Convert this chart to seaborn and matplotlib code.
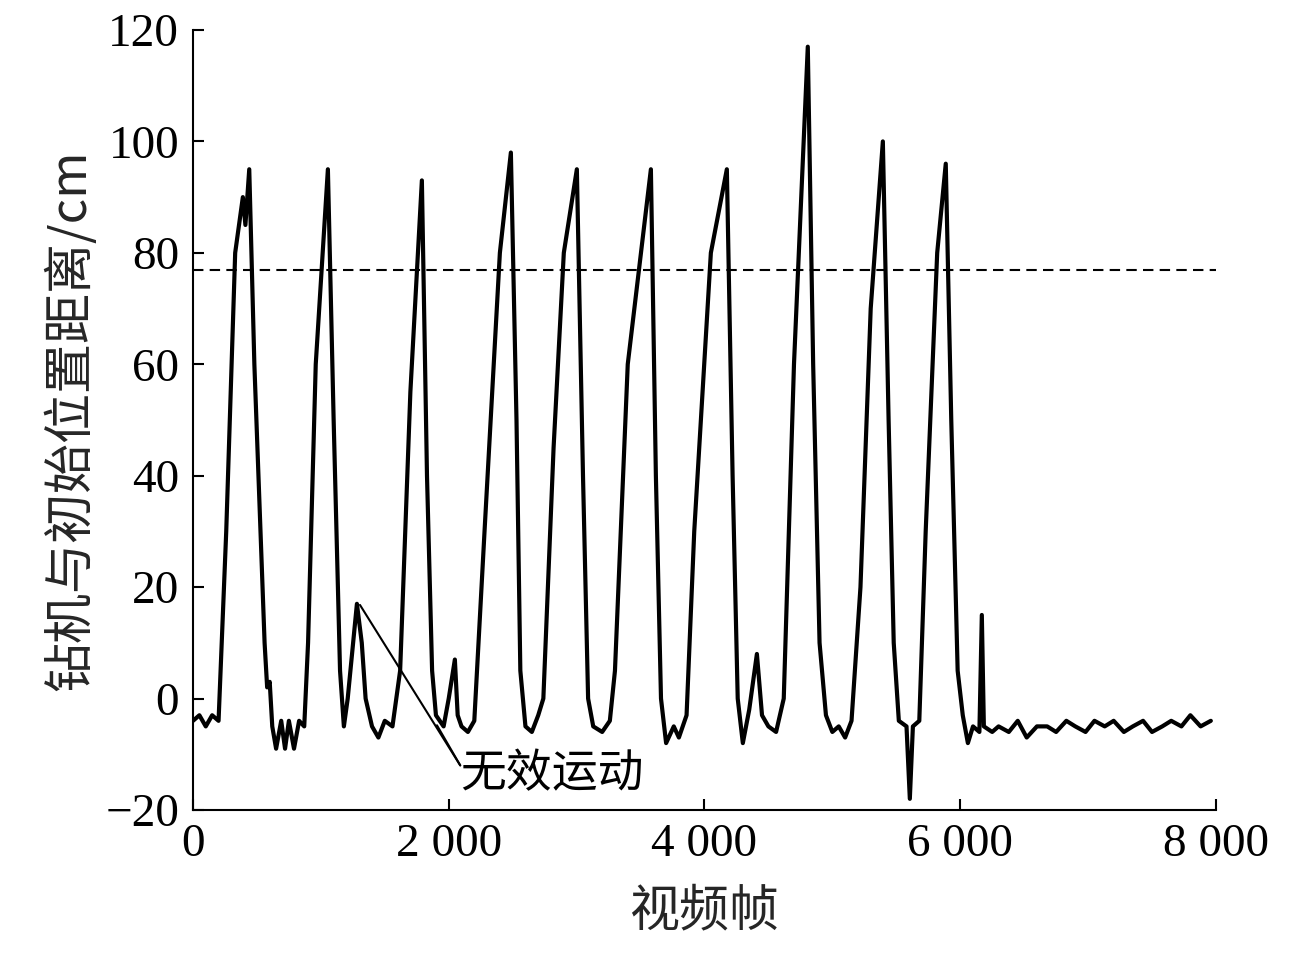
import matplotlib
matplotlib.use("Agg")
import matplotlib.pyplot as plt
import seaborn as sns
import pandas as pd

sns.set_style("ticks")
plt.rcParams['font.family'] = ['Liberation Serif', 'Noto Sans CJK SC', 'DejaVu Sans']
plt.rcParams['axes.unicode_minus'] = True
plt.rcParams['text.color'] = 'black'
plt.rcParams['xtick.color'] = 'black'
plt.rcParams['ytick.color'] = 'black'
plt.rcParams['axes.edgecolor'] = 'black'

# waypoints (frame, distance cm)
frames = [0, 50, 100, 150, 200, 260, 330, 390, 410, 440, 480, 560, 580, 600, 620, 650, 690, 720, 750, 790,
          830, 870, 900, 960, 1055, 1100, 1150, 1180, 1210, 1282, 1320, 1350, 1400, 1450, 1500, 1560, 1620,
          1700, 1790, 1830, 1870, 1900, 1960, 2000, 2048, 2070, 2100, 2150, 2200, 2280, 2400, 2486, 2530,
          2560, 2600, 2650, 2700, 2740, 2820, 2900, 3002, 3050, 3090, 3130, 3200, 3260, 3300, 3400, 3581,
          3620, 3660, 3700, 3760, 3800, 3860, 3920, 4050, 4175, 4220, 4260, 4300, 4350, 4410, 4450, 4500,
          4560, 4620, 4700, 4808, 4850, 4900, 4950, 5000, 5050, 5100, 5150, 5220, 5300, 5395, 5440, 5480,
          5520, 5580, 5606, 5630, 5680, 5730, 5820, 5887, 5930, 5980, 6020, 6060, 6100, 6150, 6169, 6185,
          6250, 6300, 6380, 6450, 6520, 6600, 6680, 6750, 6830, 6900, 6980, 7050, 7130, 7200, 7280, 7350,
          7430, 7500, 7580, 7650, 7730, 7800, 7880, 7960]
dist = [-4, -3, -5, -3, -4, 30, 80, 90, 85, 95, 60, 10, 2, 3, -5, -9, -4, -9, -4, -9,
        -4, -5, 10, 60, 95, 50, 5, -5, 0, 17, 10, 0, -5, -7, -4, -5, 5,
        55, 93, 40, 5, -3, -5, 0, 7, -3, -5, -6, -4, 30, 80, 98, 50,
        5, -5, -6, -3, 0, 45, 80, 95, 40, 0, -5, -6, -4, 5, 60, 95,
        40, 0, -8, -5, -7, -3, 30, 80, 95, 40, 0, -8, -2, 8, -3, -5,
        -6, 0, 60, 117, 60, 10, -3, -6, -5, -7, -4, 20, 70, 100, 50, 10,
        -4, -5, -18, -5, -4, 30, 80, 96, 50, 5, -3, -8, -5, -6, 15, -5,
        -6, -5, -6, -4, -7, -5, -5, -6, -4, -5, -6, -4, -5, -4, -6, -5,
        -4, -6, -5, -4, -5, -3, -5, -4]
threshold = 77

df = pd.DataFrame({"frame": frames, "dist": dist})

fig = plt.figure(figsize=(12.9, 9.67), dpi=100)
ax = fig.add_axes([0.1496, 0.1624, 0.793, 0.8066])
sns.lineplot(data=df, x="frame", y="dist", color="black", linewidth=3, ax=ax)
ax.axhline(threshold, color="black", linestyle=(0, (5, 3)), linewidth=1.5)

ax.set_xlim(0, 8000)
ax.set_ylim(-20, 120)
ax.set_xticks([0, 2000, 4000, 6000, 8000])
ax.set_xticklabels(["0", "2 000", "4 000", "6 000", "8 000"])
ax.set_yticks(range(-20, 121, 20))
ax.tick_params(direction="in", length=8, width=1.5, labelsize=34, pad=10)
for s in ["left", "bottom"]:
    ax.spines[s].set_linewidth(1.5)
sns.despine(ax=ax)

ax.set_xlabel("视频帧", fontsize=36, family=['Noto Sans CJK SC'], labelpad=14)
ax.set_ylabel("钻机与初始位置距离/cm", fontsize=36, family=['Noto Sans CJK SC', 'Liberation Serif'], labelpad=6)

# leader lines and label for the invalid motions
ax.plot([1306, 2090], [16.8, -12], color="black", lw=1.5)
ax.plot([1908, 2090], [-4.8, -12], color="black", lw=1.5)
ax.text(2090, -13.5, "无效运动", fontsize=33, family=['Noto Sans CJK SC'], va="center", ha="left")

fig.savefig("out.png", dpi=100)
